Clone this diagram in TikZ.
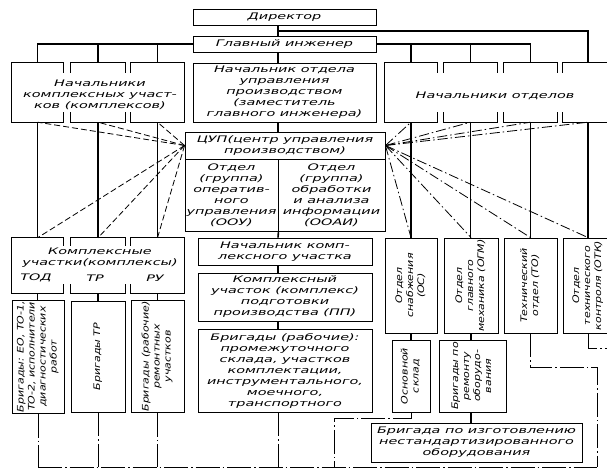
\documentclass[tikz,border=0pt]{standalone}
\usepackage{fontspec}
\setmainfont{DejaVu Sans}
\newfontfamily\gostfont[FakeStretch=1.6]{DejaVu Sans}
\newfontfamily\gostnarrow[FakeStretch=1.22]{DejaVu Sans}
\usepackage{graphicx}
\usetikzlibrary{positioning, calc}
\newcommand{\turned}[1]{\rotatebox{90}{\begin{tabular}{@{}c@{}}#1\end{tabular}}}

\begin{document}
\begin{tikzpicture}[
    x=1pt, y=-1pt,
    % boxes, connectors and the two kinds of broken lines
    box/.style={rectangle, draw, line width=0.9pt, align=center, inner sep=1pt, font=\gostfont\itshape\fontsize{9}{11}\selectfont},
    vbox/.style={box, font=\gostnarrow\itshape\fontsize{9}{11}\selectfont},
    part/.style={rectangle, inner sep=0pt},
    label/.style={align=center, inner sep=0pt, font=\gostfont\itshape\fontsize{9}{11}\selectfont},
    frame/.style={line width=0.9pt},
    conn/.style={line width=1.6pt},
    cue/.style={line width=0.8pt, dash pattern=on 6pt off 3pt},
    ray/.style={line width=0.8pt, dash pattern=on 10pt off 3pt on 1.5pt off 3pt},
    flow/.style={line width=0.9pt, dash pattern=on 24pt off 3pt on 1.5pt off 3pt}
]
    \useasboundingbox (0,0) rectangle (607,470);
    \coordinate (ax) at (278,0);

    % 1. Top of the chart
    \node[box, minimum width=183pt, minimum height=16pt] (dir) at (284.5,17) {Директор};
    \node[box, minimum width=183pt, minimum height=16pt] (glav) at (284.5,44) {Главный инженер};
    \node[box, minimum width=183pt, minimum height=59pt] (mid) at (284.5,92.5) {Начальник отдела\\управления\\производством\\(заместитель\\главного инженера)};

    % 2. Heads of the complex sections (three joined boxes)
    \node[part, minimum width=51pt, minimum height=59pt] (k1) at (37.5,92.5) {};
    \node[part, minimum width=54pt, minimum height=59pt] (k2) at (98,92.5) {};
    \node[part, minimum width=53pt, minimum height=59pt] (k3) at (157.5,92.5) {};
    \node[label] (kt) at (100,95) {Начальники\\комплексных участ-\\ков (комплексов)};
    \draw[frame] ([yshift=-10pt]k1.north east) -- (k1.north east) -- (k1.north west) -- (k1.south west) -- (k1.south east) -- ([yshift=10pt]k1.south east);
    \draw[frame] ([yshift=-10pt]k2.north west) -- (k2.north west) -- (k2.north east) -- ([yshift=-10pt]k2.north east);
    \draw[frame] ([yshift=10pt]k2.south west) -- (k2.south west) -- (k2.south east) -- ([yshift=10pt]k2.south east);
    \draw[frame] ([yshift=-10pt]k3.north west) -- (k3.north west) -- (k3.north east) -- (k3.south east) -- (k3.south west) -- ([yshift=10pt]k3.south west);

    % 3. Heads of departments (four joined boxes)
    \node[part, minimum width=52pt, minimum height=59pt] (r1) at (411,92.5) {};
    \node[part, minimum width=53pt, minimum height=59pt] (r2) at (470.5,92.5) {};
    \node[part, minimum width=53pt, minimum height=59pt] (r3) at (530.5,92.5) {};
    \node[part, minimum width=50pt, minimum height=59pt] (r4) at (588,92.5) {};
    \node[label] (rt) at (495,96) {Начальники отделов};
    \draw[frame] ([yshift=-10pt]r1.north east) -- (r1.north east) -- (r1.north west) -- (r1.south west) -- (r1.south east) -- ([yshift=10pt]r1.south east);
    \draw[frame] ([yshift=-10pt]r2.north west) -- (r2.north west) -- (r2.north east) -- ([yshift=-10pt]r2.north east);
    \draw[frame] ([yshift=10pt]r2.south west) -- (r2.south west) -- (r2.south east) -- ([yshift=10pt]r2.south east);
    \draw[frame] ([yshift=-10pt]r3.north west) -- (r3.north west) -- (r3.north east) -- ([yshift=-10pt]r3.north east);
    \draw[frame] ([yshift=10pt]r3.south west) -- (r3.south west) -- (r3.south east) -- ([yshift=10pt]r3.south east);
    \draw[frame] ([yshift=-10pt]r4.north west) -- (r4.north west) -- (r4.north east) -- (r4.south east) -- (r4.south west) -- ([yshift=10pt]r4.south west);

    % 4. Production control centre
    \node[box, minimum width=200pt, minimum height=27pt] (cup) at (285,145.5) {ЦУП(центр управления\\производством)};
    \node[box, minimum width=93pt, minimum height=72pt] (oou) at (231.5,195) {Отдел\\(группа)\\оператив-\\ного\\управления\\(ООУ)};
    \node[box, minimum width=107pt, minimum height=72pt] (ooai) at (331.5,195) {Отдел\\(группа)\\обработки\\и анализа\\информации\\(ООАИ)};

    % 5. Complex sections and their brigades
    \node[part, minimum width=51pt, minimum height=55pt] (u1) at (37.5,265.5) {};
    \node[part, minimum width=54pt, minimum height=55pt] (u2) at (98,265.5) {};
    \node[part, minimum width=53pt, minimum height=55pt] (u3) at (157.5,265.5) {};
    \node[label] (ut) at (100,258) {Комплексные\\участки(комплексы)};
    \node[label] (tod) at (36,278) {ТОД};
    \node[label] (tr) at (95,278) {ТР};
    \node[label] (ru) at (155,278) {РУ};
    \draw[frame] ([yshift=-8pt]u1.north east) -- (u1.north east) -- (u1.north west) -- (u1.south west) -- (u1.south east) -- ([yshift=9pt]u1.south east);
    \draw[frame] ([yshift=-8pt]u2.north west) -- (u2.north west) -- (u2.north east) -- ([yshift=-8pt]u2.north east);
    \draw[frame] ([yshift=9pt]u2.south west) -- (u2.south west) -- (u2.south east) -- ([yshift=9pt]u2.south east);
    \draw[frame] ([yshift=-8pt]u3.north west) -- (u3.north west) -- (u3.north east) -- (u3.south east) -- (u3.south west) -- ([yshift=9pt]u3.south west);

    \node[vbox, minimum width=52pt, minimum height=111pt] (b1) at (38,356.5) {\turned{Бригады: ЕО, ТО-1,\\ТО-2, исполнители\\диагностических\\работ}};
    \node[vbox, minimum width=54pt, minimum height=111pt] (b2) at (98,356.5) {\turned{Бригады ТР}};
    \node[vbox, minimum width=53pt, minimum height=111pt] (b3) at (157.5,356.5) {\turned{Бригады (рабочие)\\ремонтных\\участков}};

    % 6. Production preparation column
    \node[box, minimum width=174pt, minimum height=27pt] (nk) at (285,251.5) {Начальник комп-\\лексного участка};
    \node[box, minimum width=174pt, minimum height=48pt] (pp) at (285,297) {Комплексный\\участок (комплекс)\\подготовки\\производства (ПП)};
    \node[box, minimum width=174pt, minimum height=83pt] (br) at (285,370.5) {Бригады (рабочие):\\промежуточного\\склада, участков\\комплектации,\\инструментального,\\моечного,\\транспортного};

    % 7. Departments
    \node[vbox, minimum width=52pt, minimum height=95pt] (os) at (411,285.5) {\turned{Отдел\\снабжения\\(ОС)}};
    \node[vbox, minimum width=54pt, minimum height=95pt] (ogm) at (471,285.5) {\turned{Отдел\\главного\\механика (ОГМ)}};
    \node[vbox, minimum width=53pt, minimum height=95pt] (to) at (530.5,285.5) {\turned{Технический\\отдел (ТО)}};
    \node[vbox, minimum width=50pt, minimum height=95pt] (otk) at (588,285.5) {\turned{Отдел\\технического\\контроля (ОТК)}};
    \node[vbox, minimum width=38pt, minimum height=72pt] (sklad) at (411,376) {\turned{Основной\\склад}};
    \node[vbox, minimum width=67pt, minimum height=72pt] (rem) at (472.5,376) {\turned{Бригады по\\ремонту\\оборудо-\\вания}};
    \node[box, minimum width=211pt, minimum height=39pt] (nest) at (476.5,442.5) {Бригада по изготовлению\\нестандартизированного\\оборудования};

    % 8. Line of command
    \coordinate (dj) at (278,31);
    \draw[conn] (dir.south -| ax) -- (glav.north -| ax);
    \draw[conn] (dj) -| (r4.north);
    \draw[conn] (glav.west) -| (k1.north);
    \draw[conn] (k2.north) -- (k2.north |- glav.west);
    \draw[conn] (k3.north) -- (k3.north |- glav.west);
    \draw[conn] (glav.east) -| (r3.north);
    \draw[conn] (r1.north) -- (r1.north |- glav.east);
    \draw[conn] (r2.north) -- (r2.north |- glav.east);
    \draw[conn] (glav.south -| ax) -- (mid.north -| ax);
    \draw[conn] (mid.south -| ax) -- (cup.north -| ax);
    \draw[conn] (oou.south east) -- (nk.north -| ax);
    \draw[conn] (nk.south -| ax) -- (pp.north -| ax);
    \draw[conn] (pp.south -| ax) -- (br.north -| ax);
    \foreach \a/\b in {k1/u1, k2/u2, k3/u3, r1/os, r2/ogm, r3/to, r4/otk}
        \draw[conn] (\a.south) -- (\a.south |- \b.north);
    \foreach \a/\b in {u1/b1, u2/b2, u3/b3}
        \draw[conn] (\a.south) -- (\a.south |- \b.north);
    \draw[conn] (os.south) -- (sklad.north);
    \draw[conn] (ogm.south) -- (ogm.south |- rem.north);
    \draw[conn] (ogm.south |- rem.south) -- (ogm.south |- nest.north);

    % 9. Links of the control centre
    \foreach \n in {k1, k2, k3}
        \draw[cue] (cup.west) -- (\n.south);
    \foreach \n in {u1, u2, u3}
        \draw[cue] (cup.west) -- (\n.north);
    \foreach \n in {r1, r2, r3, r4}
        \draw[ray] (cup.east) -- (\n.south);
    \foreach \n in {os, ogm, to, otk}
        \draw[ray] (cup.east) -- (\n.north);

    % 10. Feedback lines along the bottom
    \coordinate (base) at (0,467);
    \coordinate (tr) at (597,367);
    \coordinate (sk) at (334,418);
    \coordinate (ox) at (615,348);
    \draw[flow] (b1.south |- base) -- (tr |- base);
    \foreach \n in {b1, b2, b3}
        \draw[flow] (\n.south) -- (\n.south |- base);
    \draw[flow] (br.south -| ax) -- (base -| ax);
    \draw[flow] (sklad.south) |- (sk) -- (sk |- base);
    \draw[flow] (to.south) |- (tr) -- (tr |- base);
    \draw[flow] (otk.south) |- (ox);

\end{tikzpicture}
\end{document}
